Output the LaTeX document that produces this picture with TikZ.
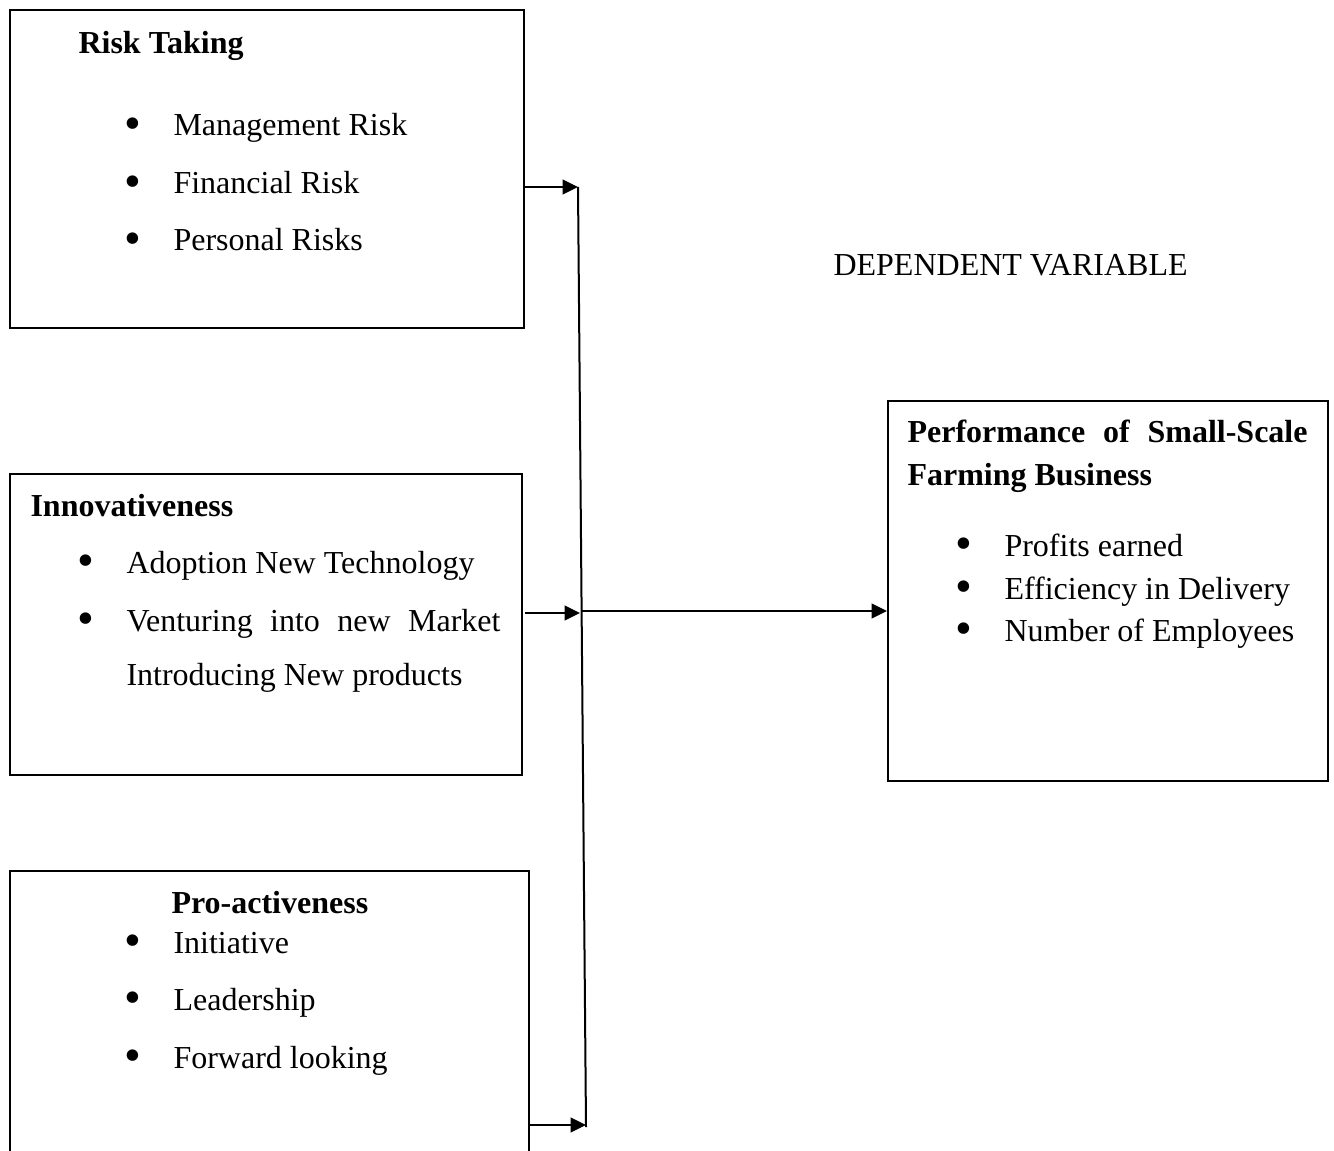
\documentclass[tikz,border=0pt]{standalone}
\usepackage{fontspec}
\setmainfont{Liberation Serif}
\usetikzlibrary{arrows.meta,positioning}

\begin{document}
\begin{tikzpicture}[x=0.375pt, y=-0.375pt, every node/.style={font=\fontsize{12}{14}\selectfont},
  box/.style={draw, line width=0.75pt, anchor=north west, inner sep=0pt},
  txt/.style={anchor=base west, inner sep=0pt},
  hd/.style={txt, font=\fontsize{12}{14}\selectfont\bfseries},
  itm/.style={txt, execute at begin node={\llap{\smash{\raisebox{-1.3pt}{\scalebox{1.5}{\textbullet}}}\hspace{12.2pt}}}},
  arr/.style={-{Triangle[length=5.8pt,width=5.6pt]}, line width=0.6pt}]
  \useasboundingbox (0,0) rectangle (1334,1151);
  \clip (0,0) rectangle (1334,1151);

  % boxes
  \node[box, minimum width=192.75pt, minimum height=119.25pt] (risk) at (9,9) {};
  \node[box, minimum width=192pt, minimum height=112.875pt] (innov) at (9,473) {};
  \node[box, minimum width=194.625pt, minimum height=123.75pt] (proact) at (9,870) {};
  \node[box, minimum width=165pt, minimum height=142.5pt] (perf) at (887,400) {};

  % risk taking
  \node[hd] (riskhd) at (78,54) {Risk Taking};
  \node[itm] (mgmt) at (173,136) {Management Risk};
  \node[itm] (fin) at (173,194) {Financial Risk};
  \node[itm] (pers) at (173,251) {Personal Risks};

  % innovativeness
  \node[hd] (innovhd) at (30,516) {Innovativeness};
  \node[itm] (adopt) at (126,573) {Adoption New Technology};
  \node[itm] (vent) at (126,631) {\makebox[140.25pt][s]{Venturing into new Market}};
  \node[txt] (intro) at (126,685) {Introducing New products};

  % pro-activeness
  \node[hd] (proacthd) at (171,913) {Pro-activeness};
  \node[itm] (init) at (173,953) {Initiative};
  \node[itm] (lead) at (173,1010) {Leadership};
  \node[itm] (fwd) at (173,1068) {Forward looking};

  % dependent variable
  \node[txt] (dep) at (833,276) {DEPENDENT VARIABLE};
  \node[hd] (perfhd) at (907,443) {\makebox[150pt][s]{Performance of Small-Scale}};
  \node[hd] (perfhd2) at (907,485) {Farming Business};
  \node[itm] (prof) at (1004,556) {Profits earned};
  \node[itm] (eff) at (1004,599) {Efficiency in Delivery};
  \node[itm] (emp) at (1004,641) {Number of Employees};

  % connectors
  \coordinate (jtop) at (578,187);
  \coordinate (jmid) at (580,613);
  \coordinate (jbot) at (586,1125);
  \coordinate (jbus) at (586,1127);
  \draw[line width=0.75pt] (jtop) -- (jbus);
  \draw[arr] (risk.east |- jtop) -- (jtop);
  \draw[arr] (525,613) coordinate (istart) -- (jmid);
  \draw[arr] (proact.east |- jbot) -- (jbot);
  \draw[arr, line width=0.5pt] (582,611) -- (perf.west |- 0,611);
\end{tikzpicture}
\end{document}
